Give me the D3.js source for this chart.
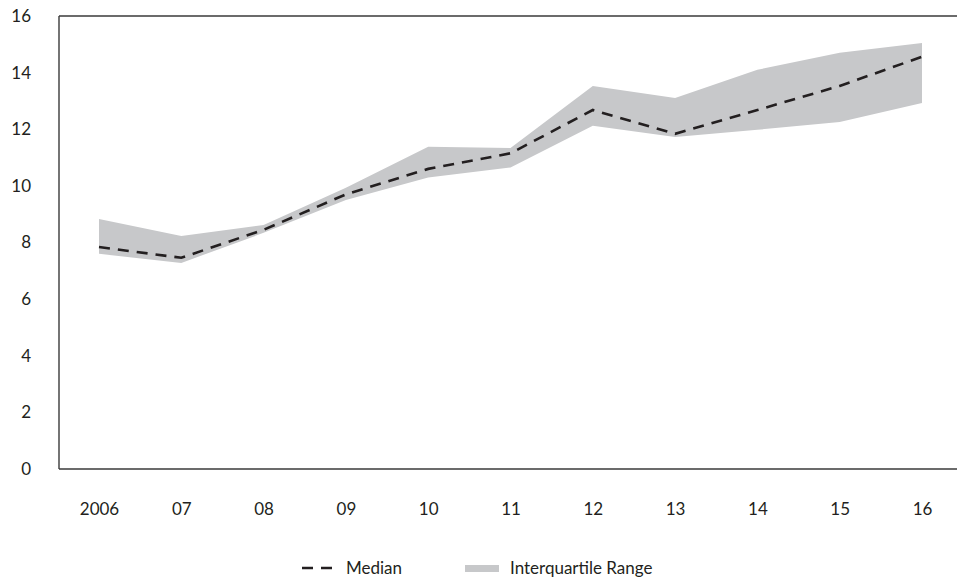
<!DOCTYPE html>
<html>
<head>
<meta charset="utf-8">
<script src="https://cdn.jsdelivr.net/npm/d3@7"></script>
<style>
  body { margin: 0; background: #fff; }
  text { font-family: Lato, "Open Sans", sans-serif; fill: #231f20; }
</style>
</head>
<body>
<div id="chart"></div>
<script>
// DATA
const years = ['2006', '07', '08', '09', '10', '11', '12', '13', '14', '15', '16'];
const median = [7.84, 7.46, 8.45, 9.7, 10.6, 11.15, 12.68, 11.84, 12.68, 13.53, 14.56];
const upperQ = [8.83, 8.23, 8.62, 9.93, 11.38, 11.34, 13.53, 13.1, 14.1, 14.7, 15.05];
const lowerQ = [7.6, 7.28, 8.34, 9.5, 10.3, 10.65, 12.12, 11.73, 11.98, 12.26, 12.93];
const yTicks = [0, 2, 4, 6, 8, 10, 12, 14, 16];

const width = 957, height = 584;
const margin = {top: 16, right: 0, bottom: 115, left: 59};

const svg = d3.select('#chart')
    .append('svg')
        .attr('width', width)
        .attr('height', height);

//SCALES
const xScale = d3.scalePoint()
    .domain(years)
    .range([99, 922]);

const yScale = d3.scaleLinear()
    .domain([0, 16])
    .range([height - margin.bottom, margin.top]);

const rows = years.map((y, i) => ({year: y, med: median[i], lo: lowerQ[i], hi: upperQ[i]}));

//BAND
const area = d3.area()
    .x(d => xScale(d.year))
    .y0(d => yScale(d.lo))
    .y1(d => yScale(d.hi));

svg.append('path')
    .datum(rows)
    .attr('d', area)
    .attr('fill', '#c7c8ca');

//MEDIAN
const line = d3.line()
    .x(d => xScale(d.year))
    .y(d => yScale(d.med));

svg.append('path')
    .datum(rows)
    .attr('d', line)
    .attr('fill', 'none')
    .attr('stroke', '#231f20')
    .attr('stroke-width', 2.6)
    .attr('stroke-dasharray', '11,8');

//FRAME (top, bottom, left)
const frame = svg.append('g').attr('stroke', '#3a3a3a').attr('stroke-width', 1.4);
frame.append('line')
    .attr('x1', margin.left).attr('x2', width)
    .attr('y1', yScale(16)).attr('y2', yScale(16));
frame.append('line')
    .attr('x1', margin.left).attr('x2', width)
    .attr('y1', yScale(0)).attr('y2', yScale(0));
frame.append('line')
    .attr('x1', margin.left).attr('x2', margin.left)
    .attr('y1', yScale(16)).attr('y2', yScale(0));

//Y AXIS
const yAxisG = svg.append('g')
    .attr('transform', `translate(${margin.left}, 0)`)
    .call(d3.axisLeft(yScale).tickValues(yTicks).tickSize(0).tickPadding(28));
yAxisG.select('.domain').remove();
yAxisG.selectAll('text').attr('font-size', 17).attr('fill', '#231f20')
    .style('font-family', 'Lato, sans-serif');

//X AXIS
const xAxisG = svg.append('g')
    .attr('transform', `translate(0, ${yScale(0)})`)
    .call(d3.axisBottom(xScale).tickSize(0).tickPadding(34));
xAxisG.select('.domain').remove();
xAxisG.selectAll('text').attr('font-size', 17).attr('fill', '#231f20')
    .style('font-family', 'Lato, sans-serif');

//LEGEND
const legend = svg.append('g').attr('transform', 'translate(0, 568)');
legend.append('line')
    .attr('x1', 302).attr('x2', 334).attr('y1', 0).attr('y2', 0)
    .attr('stroke', '#231f20').attr('stroke-width', 2.6)
    .attr('stroke-dasharray', '11,8');
legend.append('text')
    .attr('x', 346).attr('y', 6)
    .attr('font-size', 17)
    .text('Median');
legend.append('rect')
    .attr('x', 465).attr('y', -3).attr('width', 34).attr('height', 7)
    .attr('fill', '#c7c8ca');
legend.append('text')
    .attr('x', 510).attr('y', 6)
    .attr('font-size', 17)
    .text('Interquartile Range');
</script>
</body>
</html>
